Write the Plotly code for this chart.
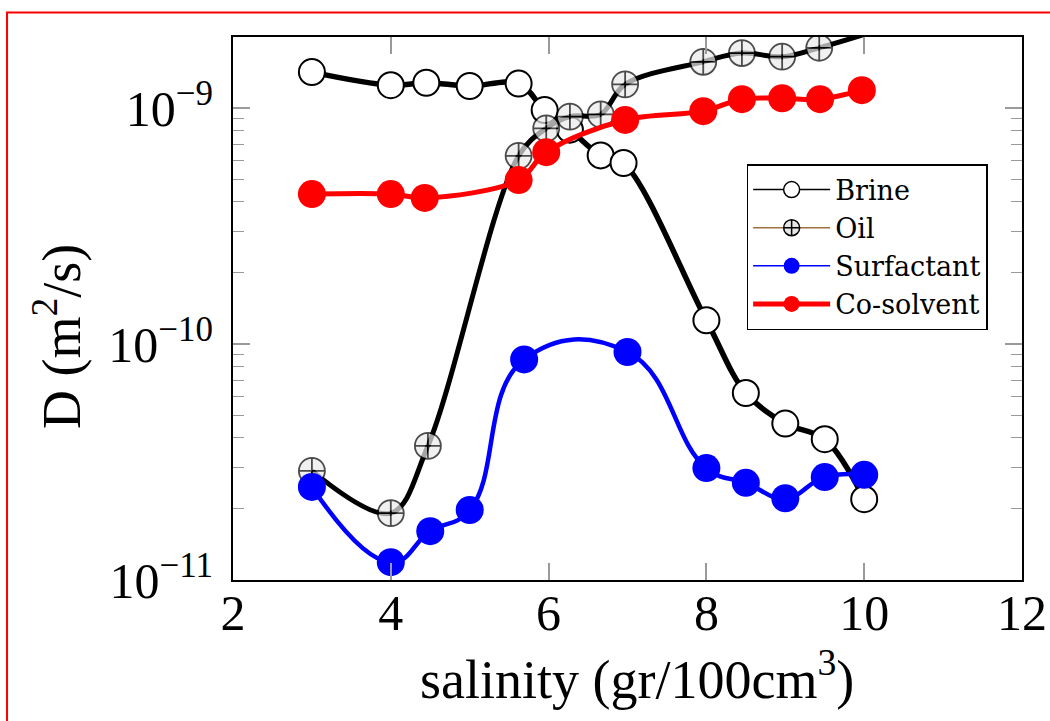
import plotly.graph_objects as go

# Salinity (gr/100cm^3) and diffusion coefficient D (m^2/s) for each component
salinity_brine = [3, 4, 4.45, 5, 5.62, 5.95, 6.27, 6.66, 6.95, 8, 8.5, 9, 9.5, 10]
d_brine = [1.42e-9, 1.25e-9, 1.28e-9, 1.24e-9, 1.27e-9, 9.8e-10, 8.1e-10,
           6.3e-10, 5.85e-10, 1.26e-10, 6.2e-11, 4.6e-11, 3.95e-11, 2.2e-11]

salinity_oil = [3, 4, 4.47, 5.62, 5.97, 6.27, 6.66, 6.97, 7.96, 8.45, 8.96, 9.43, 10]
d_oil = [2.9e-11, 1.92e-11, 3.7e-11, 6.27e-10, 8.2e-10, 9.2e-10, 9.4e-10,
         1.26e-9, 1.57e-9, 1.71e-9, 1.65e-9, 1.8e-9, 2.05e-9]

salinity_surf = [3, 4, 4.5, 5, 5.69, 7, 8, 8.5, 9, 9.5, 10]
d_surf = [2.48e-11, 1.19e-11, 1.61e-11, 1.98e-11, 8.6e-11, 9.25e-11,
          2.98e-11, 2.58e-11, 2.22e-11, 2.73e-11, 2.79e-11]

salinity_cosolv = [3, 4, 4.43, 5.62, 5.97, 6.97, 7.96, 8.45, 8.96, 9.44, 9.97]
d_cosolv = [4.32e-10, 4.32e-10, 4.16e-10, 4.95e-10, 6.5e-10, 8.9e-10,
            9.7e-10, 1.09e-9, 1.1e-9, 1.09e-9, 1.19e-9]

x_ticks = [2, 4, 6, 8, 10, 12]
y_decades = [-11, -10, -9]
y_tick_text = ["10<sup>\u221211</sup>", "10<sup>\u221210</sup>", "10<sup>\u22129</sup>"]

FONT = "Liberation Serif"
LEGEND_FONT = "DejaVu Serif"
TICK_GREY = "#9a9a9a"

# the last oil sample lies above the axis top: its marker stays hidden
oil_marker_sizes = [26] * (len(d_oil) - 1) + [0]

fig = go.Figure()

# data curves (smoothed), legend entries are added separately below
fig.add_trace(go.Scatter(
    x=salinity_brine, y=d_brine, mode="lines+markers", showlegend=False,
    line=dict(color="black", width=5.5, shape="spline", smoothing=1),
    marker=dict(symbol="circle", size=26, color="white", line=dict(color="black", width=2)),
))
fig.add_trace(go.Scatter(
    x=salinity_oil, y=d_oil, mode="lines+markers", showlegend=False,
    line=dict(color="black", width=5, shape="spline", smoothing=1),
    marker=dict(symbol="circle-cross", size=oil_marker_sizes, color="#ebebeb",
                line=dict(color="black", width=1.8)),
))
fig.add_trace(go.Scatter(
    x=salinity_surf, y=d_surf, mode="lines+markers", showlegend=False,
    line=dict(color="#0000ff", width=4.5, shape="spline", smoothing=1.3),
    marker=dict(symbol="circle", size=28, color="#0000ff", line=dict(width=0)),
))
fig.add_trace(go.Scatter(
    x=salinity_cosolv, y=d_cosolv, mode="lines+markers", showlegend=False,
    line=dict(color="#ff0000", width=5, shape="spline", smoothing=1),
    marker=dict(symbol="circle", size=28, color="#ff0000", line=dict(width=0)),
))

# legend samples
fig.add_trace(go.Scatter(
    x=[None], y=[None], mode="lines+markers", name="Brine",
    line=dict(color="black", width=1.5),
    marker=dict(symbol="circle", size=16, color="white", line=dict(color="black", width=1.5)),
))
fig.add_trace(go.Scatter(
    x=[None], y=[None], mode="lines+markers", name="Oil",
    line=dict(color="#a0703c", width=1.5),
    marker=dict(symbol="circle-cross", size=16, color="#e6e6e6", line=dict(color="black", width=1.5)),
))
fig.add_trace(go.Scatter(
    x=[None], y=[None], mode="lines+markers", name="Surfactant",
    line=dict(color="#0000ff", width=1.5),
    marker=dict(symbol="circle", size=16, color="#0000ff"),
))
fig.add_trace(go.Scatter(
    x=[None], y=[None], mode="lines+markers", name="Co-solvent",
    line=dict(color="#ff0000", width=5),
    marker=dict(symbol="circle", size=16, color="#ff0000"),
))

minor_vals = [k * 10.0 ** e for e in [-11, -10, -9] for k in range(2, 10) if k * 10.0 ** e <= 2e-9]

fig.update_layout(
    width=1050, height=721, autosize=False,
    margin=dict(l=233, r=28, t=37, b=141, autoexpand=False),
    paper_bgcolor="white", plot_bgcolor="white",
    font=dict(family=FONT, color="black"),
    xaxis=dict(
        range=[2, 12], tickmode="array", tickvals=x_ticks, automargin=False,
        ticks="inside", ticklen=17, tickwidth=1.5, tickcolor=TICK_GREY,
        showline=True, linecolor="black", linewidth=2, mirror="ticks",
        showgrid=False, zeroline=False,
        tickfont=dict(family=FONT, size=50, color="black"),
        ticklabelstandoff=-12,
    ),
    yaxis=dict(
        type="log", range=[-11, -8.699], automargin=False,
        tickmode="array", tickvals=[10.0 ** e for e in y_decades], ticktext=y_tick_text,
        ticks="inside", ticklen=17, tickwidth=1.5, tickcolor=TICK_GREY,
        minor=dict(tickmode="array", tickvals=minor_vals, ticks="inside", ticklen=11,
                   tickwidth=1.2, tickcolor=TICK_GREY, showgrid=False),
        showline=True, linecolor="black", linewidth=2, mirror="ticks",
        showgrid=False, zeroline=False,
        tickfont=dict(family=FONT, size=50, color="black"),
        ticklabelstandoff=8,
    ),
    legend=dict(
        x=0.651, y=0.766, xanchor="left", yanchor="top",
        bgcolor="white", bordercolor="black", borderwidth=1.5,
        font=dict(family=LEGEND_FONT, size=27, color="black"),
        itemwidth=77,
    ),
    annotations=[
        dict(text="salinity (gr/100cm<sup>3</sup>)", xref="paper", yref="paper",
             x=0.512, y=-0.175, xanchor="center", yanchor="middle", showarrow=False,
             font=dict(family=FONT, size=54, color="black")),
        dict(text="D (m<sup>2</sup>/s)", xref="paper", yref="paper",
             x=-0.223, y=0.4475, xanchor="center", yanchor="middle", showarrow=False,
             textangle=-90, font=dict(family=FONT, size=54, color="black")),
    ],
    shapes=[
        dict(type="rect", xref="paper", yref="paper", x0=-0.2864, y0=-0.27, x1=1.045, y1=1.0451,
             line=dict(color="#ff0000", width=2), fillcolor="rgba(0,0,0,0)", layer="below"),
    ],
)

fig.write_html("out.html")
